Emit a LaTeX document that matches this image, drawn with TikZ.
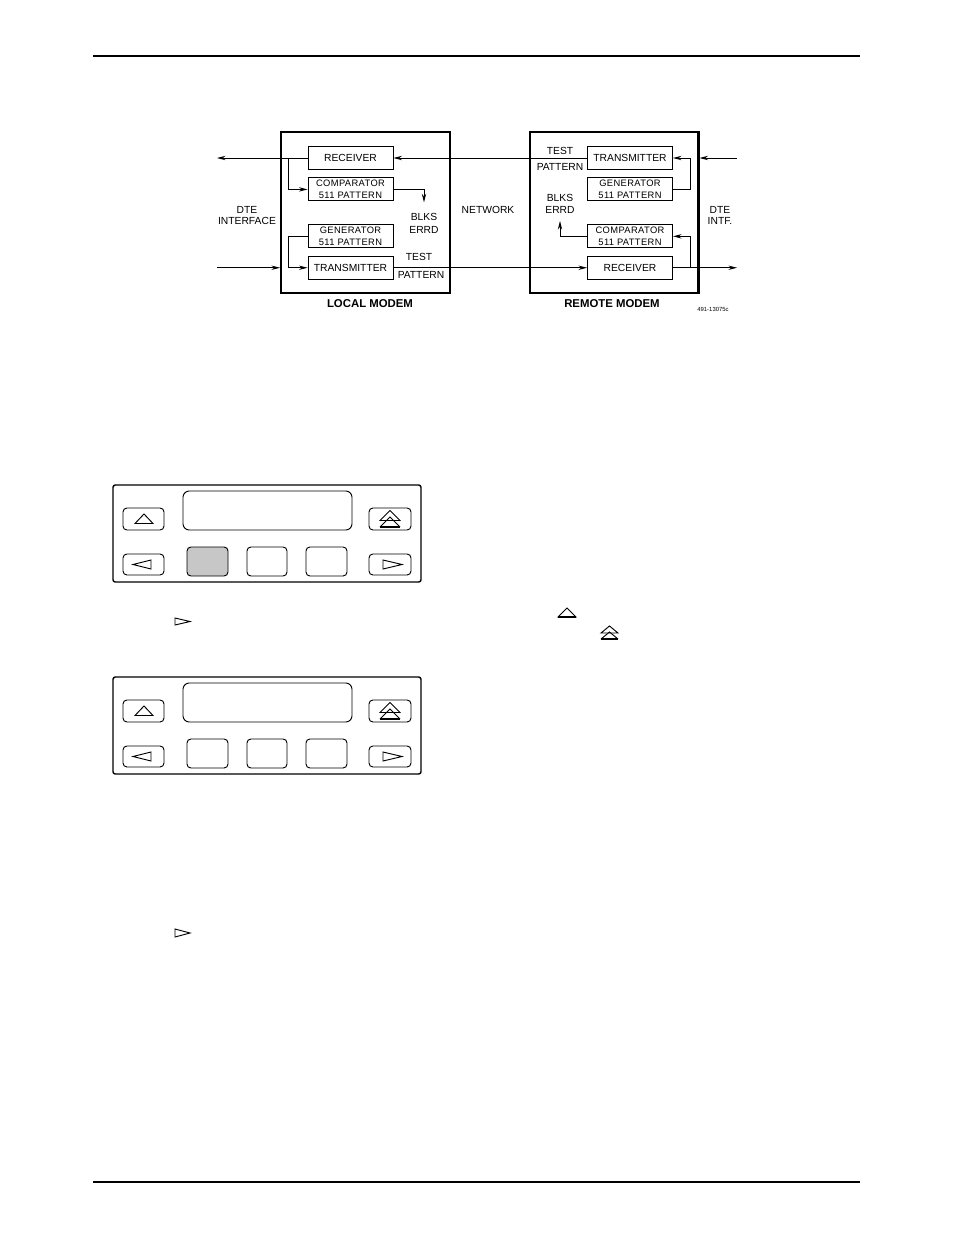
\documentclass[tikz,border=0pt]{standalone}
\usepackage{fontspec}
\setmainfont{Liberation Sans}
\newfontfamily\spacedsans[LetterSpace=4]{Liberation Sans}
\usepackage{tikz}
\usetikzlibrary{arrows.meta,positioning}
\definecolor{keygray}{gray}{0.78}

\begin{document}
\begin{tikzpicture}[x=0.6415pt,y=-0.6415pt,>={Stealth[length=5.5pt,width=2.8pt]},line width=0.6pt]
  \tikzstyle{blk}=[draw,minimum width=54.5pt,minimum height=14.75pt,inner sep=0pt,font=\fontsize{6.6}{7}\selectfont]
  \tikzstyle{blksm}=[blk,align=center,font=\spacedsans\fontsize{6}{7.5}\selectfont]
  \tikzstyle{modem}=[draw,line width=1.3pt,minimum width=108.4pt,minimum height=103.3pt,inner sep=0pt]
  \tikzstyle{lbl}=[align=center,inner sep=1pt,font=\fontsize{6.6}{7.2}\selectfont]
  \tikzstyle{errlbl}=[lbl,font=\fontsize{6.6}{8}\selectfont]
  \tikzstyle{title}=[font=\bfseries\fontsize{7.3}{8}\selectfont]
  \tikzstyle{btn}=[draw,rounded corners=2.5pt]
  \useasboundingbox (0,0) rectangle (954,1235);
  % page rules
  \draw[line width=1.2pt] (93,56) -- (860,56);
  \draw[line width=1.2pt] (93,1182) -- (860,1182);
  % modems
  \node[modem] (lbox) at (365.5,212.5) {};
  \node[modem] (rbox) at (614,212.5) {};
  \node[blk] (lrx) at (350.5,158) {RECEIVER};
  \node[blksm,below=4.8pt of lrx] (lcmp) {COMPARATOR\\511 PATTERN};
  \node[blksm,below=14.75pt of lcmp] (lgen) {GENERATOR\\511 PATTERN};
  \node[blk,below=4.8pt of lgen] (ltx) {TRANSMITTER};
  \node[blk] (rtx) at (630,158) {TRANSMITTER};
  \node[blksm,below=4.8pt of rtx] (rgen) {GENERATOR\\511 PATTERN};
  \node[blksm,below=14.75pt of rgen] (rcmp) {COMPARATOR\\511 PATTERN};
  \node[blk,below=4.8pt of rcmp] (rrx) {RECEIVER};
  % labels
  \node[lbl] (ldte) at (247,215.5) {DTE\\INTERFACE};
  \node[lbl] (net) at (488,210) {NETWORK};
  \node[lbl] (rdte) at (720,215.5) {DTE\\INTF.};
  \node[errlbl] (lerr) at (424,223.5) {BLKS\\ERRD};
  \node[errlbl] (rerr) at (560,204) {BLKS\\ERRD};
  \node[lbl] (ltest) at (419,257) {TEST};
  \node[lbl] (lpat) at (421,275) {PATTERN};
  \node[lbl] (rtest) at (560,151) {TEST};
  \node[lbl] (rpat) at (560,167) {PATTERN};
  \node[title] (lname) at (370,304) {LOCAL MODEM};
  \node[title] (rname) at (612,304) {REMOTE MODEM};
  \node[font=\fontsize{3.8}{4}\selectfont] (figno) at (713,309) {491-13075c};
  % connections
  \coordinate (ldteout) at (217,158);
  \coordinate (ldtein) at (217,265.5);
  \coordinate (rdtein) at (737,158);
  \coordinate (rdteout) at (737,265.5);
  \draw[->] (lrx.west) -- (ldteout |- lrx);
  \draw[->] (lrx.west) -- ++(-19,0) |- (lcmp.west);
  \draw[->] (lcmp.east) -| ([yshift=6pt]lerr.north);
  \draw[->] (lgen.west) -- ++(-19,0) |- (ltx.west);
  \draw[->] (ldtein |- ltx) -- (lbox.west |- ltx);
  \draw[->] (ltx.east) -- (rrx.west);
  \draw[->] (rtx.west) -- (lrx.east);
  \draw[->] (rdtein |- rtx) -- (rbox.east |- rtx);
  \draw[->] (rgen.east) -- ++(18,0) |- (rtx.east);
  \draw[->] (rrx.east) -- ++(18,0) |- (rcmp.east);
  \draw[->] (rcmp.west) -| ([yshift=-3.3pt]rerr.south);
  \draw[->] (rrx.east) -- (rdteout |- rrx);
  % front panels
  \foreach \py/\kc in {0/keygray,192/white} {
    \begin{scope}[shift={(0,\py)}]
      \draw[line width=0.9pt,rounded corners=1.5pt] (113,485) rectangle (421,582);
      \draw[btn,rounded corners=4pt] (183,491) rectangle (352,530);
      \draw[btn] (123,508) rectangle (164,530);
      \draw[btn] (369,508) rectangle (411,530);
      \draw[btn] (123,554) rectangle (164,575);
      \draw[btn] (369,554) rectangle (411,575);
      \draw[btn,fill=\kc] (187,547) rectangle (228,576);
      \draw[btn] (247,547) rectangle (287,576);
      \draw[btn] (306,547) rectangle (347,576);
      \draw (135,523.5) -- (144,514) -- (153,523.5) -- cycle;
      \draw (151,560) -- (133,564.5) -- (151,569) -- cycle;
      \draw (383,560) -- (402,564.5) -- (383,569) -- cycle;
      \draw (380,520.5) -- (390,510.5) -- (400,520.5) -- cycle;
      \draw (380,527) -- (390,517) -- (400,527);
      \draw[line width=0.9pt] (380,527) -- (400,527);
    \end{scope}
  }
  % key glyphs in the text
  \draw (175,618) -- (190,621.5) -- (175,625) -- cycle;
  \draw (175,929) -- (190,933) -- (175,937) -- cycle;
  \draw (558,617) -- (567,608) -- (576,617) -- cycle;
  \draw[line width=0.9pt] (558,617) -- (576,617);
  \draw (601,633) -- (609.5,626) -- (618,633) -- cycle;
  \draw (601,639) -- (609.5,632) -- (618,639);
  \draw[line width=0.9pt] (601,639) -- (618,639);
\end{tikzpicture}
\end{document}
